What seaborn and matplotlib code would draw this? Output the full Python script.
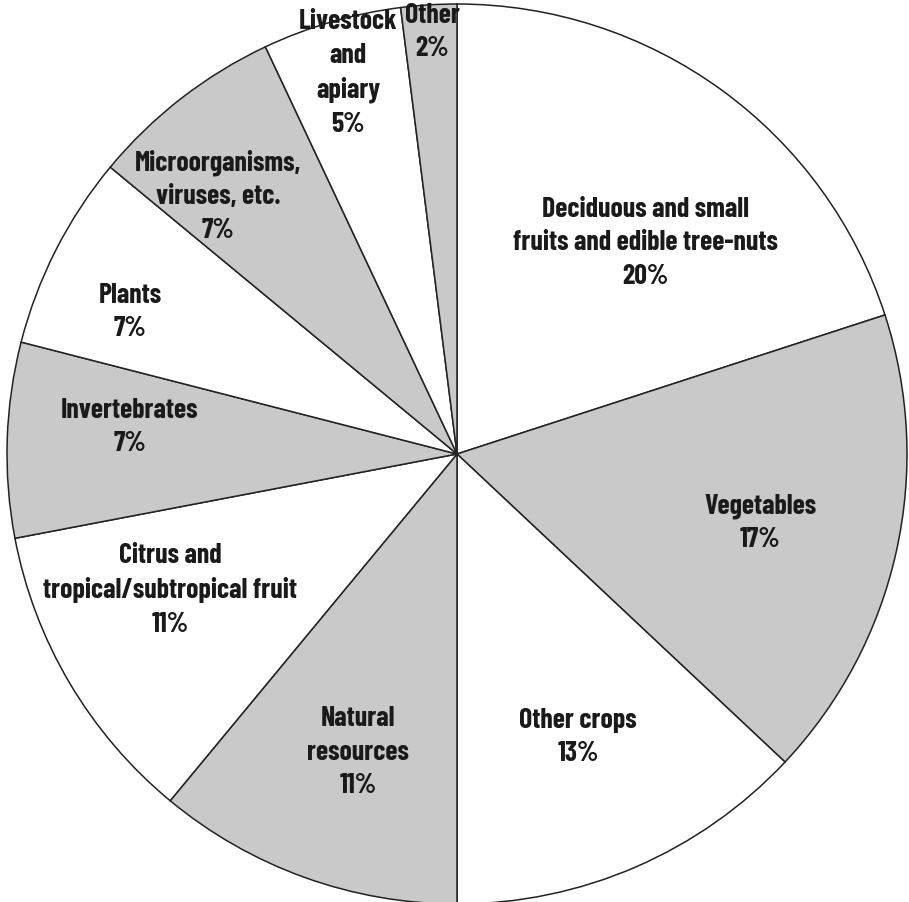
import numpy as np
import pandas as pd
import matplotlib
matplotlib.use('Agg')
import matplotlib.pyplot as plt
import seaborn as sns

# Pie verisi (saat yönünde, tepeden başlayarak)
kategoriler = ['Deciduous and small\nfruits and edible tree-nuts',
               'Vegetables',
               'Other crops',
               'Natural\nresources',
               'Citrus and\ntropical/subtropical fruit',
               'Invertebrates',
               'Plants',
               'Microorganisms,\nviruses, etc.',
               'Livestock\nand\napiary',
               'Other']
yuzdeler = [20, 17, 13, 11, 11, 7, 7, 7, 5, 2]

df = pd.DataFrame({'Kategori': kategoriler, 'Yuzde': yuzdeler})

sns.set_theme(style='white')
plt.rcParams['font.family'] = ['Barlow Condensed', 'DejaVu Sans']

# beyaz / gri sırayla
renkler = ['white' if i % 2 == 0 else '#c9c9c9' for i in range(len(df))]

fig = plt.figure(figsize=(9.09, 9.03), dpi=100)
ax = fig.add_axes([0, 0, 1, 1])

R = 450.0
cx, cy = 457.0, 455.0
W, H = 909.0, 903.0

ax.pie(df['Yuzde'], colors=renkler, startangle=90, counterclock=False,
       radius=1.0, wedgeprops={'edgecolor': '#222222', 'linewidth': 1.1})

ax.set_xlim(-cx / R, (W - cx) / R)
ax.set_ylim(-(H - cy) / R, cy / R)
ax.set_aspect('auto')
ax.axis('off')

# Etiket konumları (piksel, üstten)
etiket_konum = [(645, 243), (760, 523), (578, 737), (358, 752), (170, 590),
                (130, 427), (130, 312), (218, 196), (348, 73), (432, 32)]

for (kat, y), (px, py) in zip(zip(df['Kategori'], df['Yuzde']), etiket_konum):
    ax.text((px - cx) / R, (cy - py) / R, f'{kat}\n{y}%',
            ha='center', va='center', fontsize=20, fontweight='bold',
            color='#1a1a1a', linespacing=1.42)

fig.savefig('out.png', dpi=100, facecolor='white')
